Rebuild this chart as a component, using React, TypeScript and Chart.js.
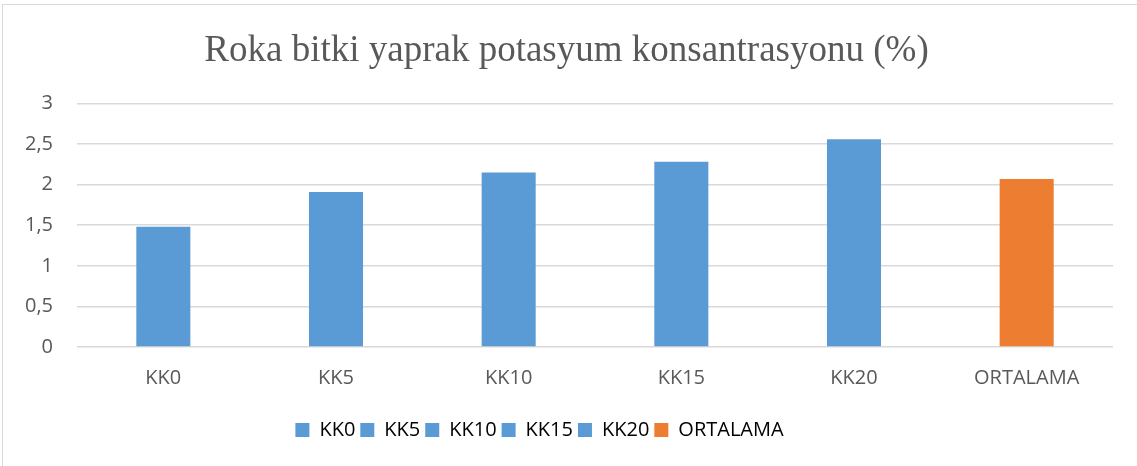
import React, { useEffect, useRef } from "react";
import { Chart, registerables } from "chart.js";

Chart.register(...registerables);

const categories = ["KK0", "KK5", "KK10", "KK15", "KK20", "ORTALAMA"];
const values = [1.48, 1.91, 2.15, 2.28, 2.56, 2.07];
const barColors = ["#5B9BD5", "#5B9BD5", "#5B9BD5", "#5B9BD5", "#5B9BD5", "#ED7D31"];
const titleText = "Roka bitki yaprak potasyum konsantrasyonu (%)";

const sans = "'Open Sans', 'Liberation Sans', sans-serif";

const shiftLegend = {
  id: "shiftLegend",
  afterLayout(chart: any) {
    const l = chart.legend;
    if (l) {
      l.left -= 27;
      l.right -= 27;
    }
  },
};

export default function App() {
  const ref = useRef<HTMLCanvasElement>(null);
  useEffect(() => {
    document.body.style.margin = "0";
    const ctx = ref.current!;
    const chart = new Chart(ctx, {
      type: "bar",
      data: {
        labels: categories,
        datasets: [
          {
            data: values,
            backgroundColor: barColors,
            categoryPercentage: 1,
            barPercentage: 0.313,
          },
        ],
      },
      plugins: [shiftLegend],
      options: {
        responsive: false,
        animation: false,
        layout: { padding: { left: 20, right: 24, top: 0, bottom: 16 } },
        plugins: {
          title: {
            display: true,
            text: titleText,
            color: "#595959",
            font: { family: "'Liberation Serif', 'Times New Roman', serif", size: 37, weight: "normal" },
            padding: { top: 29, bottom: 30 },
          },
          tooltip: { enabled: false },
          legend: {
            position: "bottom",
            labels: {
              color: "#595959",
              font: { family: sans, size: 20 },
              boxWidth: 14,
              boxHeight: 14,
              padding: 5,
              generateLabels: () =>
                categories.map((c, i) => ({
                  text: c,
                  fillStyle: barColors[i],
                  strokeStyle: barColors[i],
                  lineWidth: 0,
                  hidden: false,
                  index: i,
                  datasetIndex: 0,
                })),
            },
          },
        },
        scales: {
          x: {
            grid: { display: false, drawTicks: false },
            border: { display: false },
            afterFit: (s: any) => {
              s.height = 68;
            },
            ticks: {
              color: "#595959",
              padding: 19,
              font: { family: sans, size: 20 },
            },
          },
          y: {
            min: 0,
            max: 3,
            grid: { color: "#d9d9d9", lineWidth: 1.5, drawTicks: false },
            border: { display: false },
            afterFit: (s: any) => {
              s.width = 57;
            },
            ticks: {
              stepSize: 0.5,
              color: "#595959",
              padding: 24,
              font: { family: sans, size: 20 },
              callback: (v: any) => String(v).replace(".", ","),
            },
          },
        },
      },
    });
    return () => chart.destroy();
  }, []);
  return (
    <div style={{ position: "relative", width: 1137, height: 466, overflow: "hidden", background: "#fff" }}>
      <div
        style={{
          position: "absolute",
          left: 2,
          top: 4,
          width: 1200,
          height: 600,
          border: "1.5px solid #d9d9d9",
          boxSizing: "border-box",
        }}
      />
      <canvas ref={ref} width={1137} height={466} style={{ position: "absolute", left: 0, top: 0 }} />
    </div>
  );
}
